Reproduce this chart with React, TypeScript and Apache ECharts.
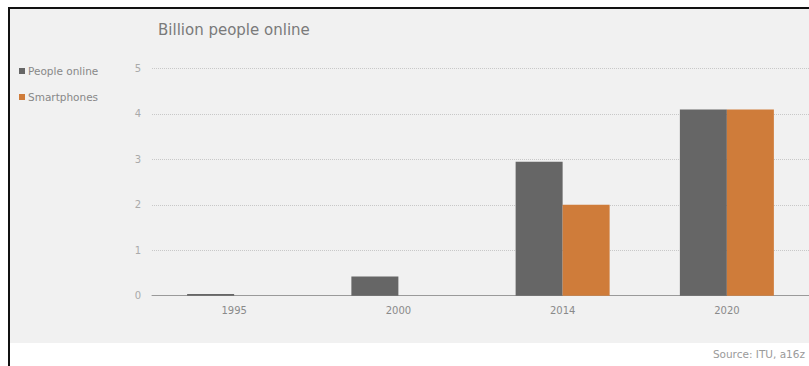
import React, { useEffect, useRef } from "react";
import * as echarts from "echarts";

const categories = ["1995", "2000", "2014", "2020"];
const peopleOnline = [0.04, 0.42, 2.95, 4.1];
const smartphones = [0, 0, 2.0, 4.1];
const seriesNames = ["People online", "Smartphones"];
const titleText = "Billion people online";
const sourceText = "Source: ITU, a16z";

export default function App() {
  const ref = useRef<HTMLDivElement>(null);
  useEffect(() => {
    if (!ref.current) return;
    const chart = echarts.init(ref.current, undefined, { renderer: "svg" });
    const font = "'DejaVu Sans', 'Open Sans', sans-serif";
    chart.setOption({
      animation: false,
      textStyle: { fontFamily: font },
      title: {
        text: titleText,
        left: 153,
        top: 17,
        textStyle: { fontSize: 15, color: "#7a7a7a", fontWeight: "normal", fontFamily: font },
      },
      legend: {
        orient: "vertical",
        left: 14,
        top: 60,
        itemWidth: 6,
        itemHeight: 6,
        itemGap: 14,
        icon: "rect",
        data: seriesNames,
        textStyle: { fontSize: 10.5, color: "#888", padding: [0, 0, 0, -2], lineHeight: 12, fontFamily: font },
      },
      grid: { left: 152, right: 0, top: 68.5, bottom: 70.3 },
      xAxis: {
        type: "category",
        data: categories,
        axisLine: { lineStyle: { color: "#9a9a9a", width: 1 } },
        axisTick: { show: false },
        axisLabel: { fontSize: 10, color: "#8a8a8a", margin: 10, fontFamily: font },
      },
      yAxis: {
        type: "value",
        min: 0,
        max: 5,
        interval: 1,
        axisLine: { show: false },
        axisTick: { show: false },
        axisLabel: { fontSize: 10, color: "#aaa", margin: 11, fontFamily: font },
        splitLine: { lineStyle: { color: "#c8c8c8", type: [1, 1], width: 1 } },
      },
      series: [
        {
          name: seriesNames[0],
          type: "bar",
          data: peopleOnline,
          barWidth: 47,
          barGap: "0%",
          itemStyle: { color: "#666666" },
        },
        {
          name: seriesNames[1],
          type: "bar",
          data: smartphones,
          barWidth: 47,
          itemStyle: { color: "#cf7c3a" },
        },
      ],
      graphic: [
        {
          type: "rect",
          z: -100,
          silent: true,
          shape: { x: 10, y: 9, width: 800, height: 334 },
          style: { fill: "#f1f1f1" },
        },
        {
          type: "line",
          z: 100,
          silent: true,
          shape: { x1: 8, y1: 8, x2: 809, y2: 8 },
          style: { stroke: "#111", lineWidth: 2 },
        },
        {
          type: "line",
          z: 100,
          silent: true,
          shape: { x1: 9, y1: 8, x2: 9, y2: 366 },
          style: { stroke: "#111", lineWidth: 2 },
        },
        {
          type: "text",
          z: 100,
          silent: true,
          x: 805,
          y: 354,
          style: {
            text: sourceText,
            fontSize: 10.5,
            fill: "#9a9a9a",
            fontFamily: font,
            align: "right",
            verticalAlign: "middle",
          },
        },
      ],
    });
    return () => chart.dispose();
  }, []);
  return (
    <div
      ref={ref}
      style={{ position: "fixed", left: 0, top: 0, width: 809, height: 366, background: "#fff" }}
    />
  );
}
